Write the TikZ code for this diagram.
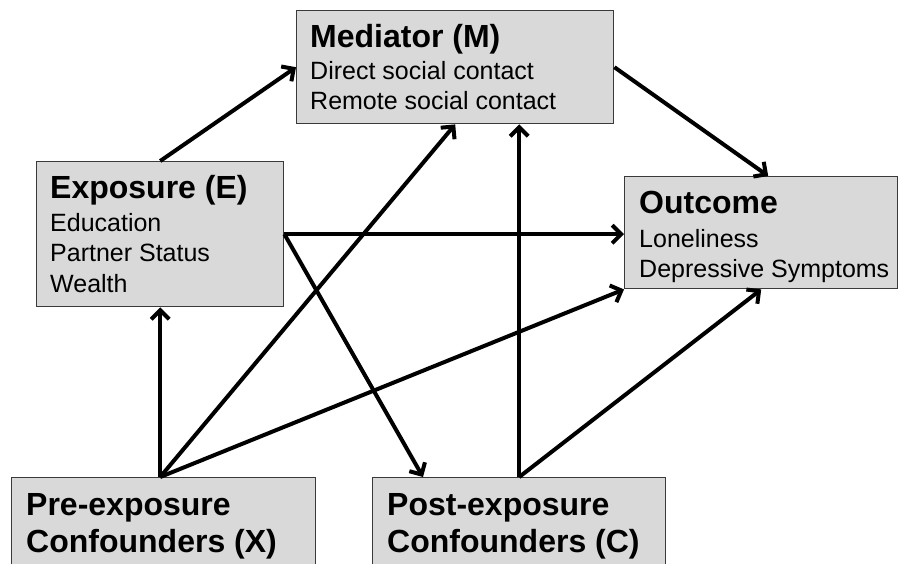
\documentclass[tikz,border=0pt]{standalone}
\usepackage{fontspec}
\setmainfont{Liberation Sans}
\usetikzlibrary{arrows.meta,calc}
\definecolor{boxfill}{HTML}{D9D9D9}
\definecolor{boxline}{HTML}{3A3A3A}
\tikzset{
  box/.style={draw=boxline, fill=boxfill, line width=1.4pt, rectangle, inner sep=0pt, anchor=north west},
  ttl/.style={anchor=base west, inner sep=0pt, font=\fontsize{32}{37}\selectfont\bfseries},
  bod/.style={anchor=base west, inner sep=0pt, font=\fontsize{25}{30}\selectfont},
  arr/.style={line width=4pt, -{Straight Barb[length=9pt,width=18pt]}}
}
\begin{document}
\begin{tikzpicture}[x=1pt,y=-1pt]
\useasboundingbox (0,0) rectangle (901,563);
% boxes
\node[box, minimum width=317pt, minimum height=113pt] (M) at (296,10) {};
\node[box, minimum width=247pt, minimum height=145pt] (E) at (36,161) {};
\node[box, minimum width=273pt, minimum height=112pt] (O) at (624,176) {};
\node[box, minimum width=304pt, minimum height=143pt] (X) at (11,477) {};
\node[box, minimum width=293pt, minimum height=143pt] (C) at (372,477) {};
% texts
\node[ttl] (Mt) at (310,47) {Mediator (M)};
\node[bod] (M1) at (310,79) {Direct social contact};
\node[bod] (M2) at (310,109) {Remote social contact};
\node[ttl] (Et) at (50,198) {Exposure (E)};
\node[bod] (E1) at (50,231) {Education};
\node[bod] (E2) at (50,261) {Partner Status};
\node[bod] (E3) at (50,292) {Wealth};
\node[ttl] (Ot) at (639,213) {Outcome};
\node[bod] (O1) at (639,247) {Loneliness};
\node[bod] (O2) at (639,277) {Depressive Symptoms};
\node[ttl] (Xt) at (26,515) {Pre-exposure};
\node[ttl] (X2) at (26,552) {Confounders (X)};
\node[ttl] (Ct) at (387,515) {Post-exposure};
\node[ttl] (C2) at (387,552) {Confounders (C)};
% connectors
\coordinate (xs) at (X.north -| E.south);
\draw[arr] (E.north) -- (M.west);
\draw[arr] (M.east) -- ([xshift=7pt]O.north);
\draw[arr] (E.east) -- (E.east -| O.west);
\draw[arr] (E.east) -- ($(C.north west)+(51,0)$);
\draw[arr] (xs) -- (E.south);
\draw[arr] (xs) -- (M.south);
\draw[arr] (xs) -- (O.south west);
\draw[arr] (C.north) -- (C.north |- M.south);
\draw[arr] (C.north) -- (O.south);
\end{tikzpicture}
\end{document}
